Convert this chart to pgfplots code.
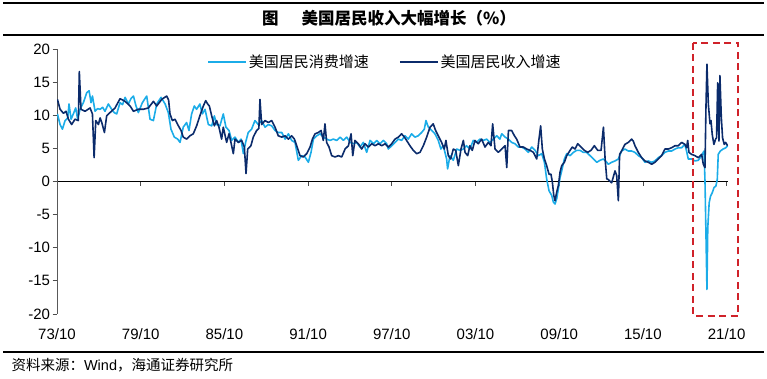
\documentclass[border=0pt]{standalone}
\usepackage{pgfplots}
\pgfplotsset{compat=1.18}
\usepackage{fontspec}
\setmainfont{Liberation Sans}
\newfontfamily\cjk{Noto Sans CJK SC}
\definecolor{cons}{HTML}{1BACE8}
\definecolor{inc}{HTML}{0B2B6B}
\definecolor{boxred}{HTML}{D0222A}

\pgfplotstableread{
x y
1973.78 10.2
1973.97 8.6
1974.14 7.9
1974.33 9.2
1974.52 9.6
1974.61 11.7
1974.76 9.4
1974.92 10.2
1975.09 11.1
1975.23 9.4
1975.40 10.9
1975.64 11.9
1975.88 13.4
1976.05 13.7
1976.19 11.9
1976.29 12.9
1976.48 10.6
1976.66 11.0
1976.84 10.9
1977.02 11.2
1977.19 10.6
1977.43 11.7
1977.67 10.9
1977.85 10.4
1978.03 10.2
1978.27 11.9
1978.45 11.6
1978.63 12.7
1978.87 11.7
1979.05 12.5
1979.23 12.9
1979.40 11.5
1979.58 10.4
1979.87 11.9
1980.18 12.9
1980.42 9.4
1980.66 9.2
1980.90 11.7
1981.21 12.7
1981.50 11.7
1981.73 10.4
1981.92 7.9
1982.16 6.7
1982.40 6.4
1982.57 5.9
1982.80 8.2
1983.04 8.9
1983.21 7.7
1983.40 10.2
1983.59 11.4
1983.76 10.9
1983.99 11.7
1984.17 10.2
1984.36 10.9
1984.60 8.6
1984.84 8.4
1985.03 9.9
1985.19 8.6
1985.43 8.4
1985.67 10.2
1985.86 8.2
1986.08 7.7
1986.27 6.2
1986.51 6.7
1986.75 5.9
1986.94 6.4
1987.11 4.2
1987.27 5.9
1987.46 7.4
1987.70 7.9
1987.94 9.2
1988.18 8.6
1988.42 9.2
1988.66 8.2
1988.90 8.6
1989.14 8.4
1989.38 7.7
1989.61 7.4
1989.86 7.4
1990.10 6.4
1990.34 7.2
1990.57 6.2
1990.81 5.9
1991.05 3.2
1991.29 3.9
1991.53 3.7
1991.77 2.9
1991.96 4.4
1992.13 6.4
1992.37 6.9
1992.61 7.2
1992.84 6.7
1993.08 6.4
1993.32 6.2
1993.56 6.4
1993.80 6.2
1994.04 6.7
1994.28 6.2
1994.52 6.7
1994.76 5.9
1994.99 5.7
1995.23 5.9
1995.47 5.2
1995.71 5.9
1995.95 4.4
1996.19 6.2
1996.43 5.7
1996.67 6.2
1996.91 5.7
1997.15 6.2
1997.38 5.7
1997.50 4.9
1997.74 5.4
1997.98 5.9
1998.22 6.4
1998.45 6.2
1998.69 6.9
1998.93 6.4
1999.17 7.2
1999.41 6.7
1999.65 6.9
1999.89 7.4
2000.08 7.9
2000.20 9.2
2000.37 8.2
2000.61 7.7
2000.84 7.2
2001.08 6.2
2001.27 4.9
2001.44 5.4
2001.68 3.4
2001.75 1.9
2001.92 3.9
2002.16 3.2
2002.40 4.9
2002.64 4.7
2002.88 4.9
2003.11 5.4
2003.35 4.9
2003.59 6.2
2003.83 5.9
2004.07 6.4
2004.31 6.2
2004.55 6.4
2004.79 5.9
2005.03 6.4
2005.27 6.9
2005.50 6.4
2005.63 7.2
2005.87 6.7
2006.11 6.4
2006.34 5.9
2006.58 5.7
2006.82 5.2
2007.06 5.2
2007.30 4.9
2007.54 4.4
2007.78 5.2
2008.02 4.7
2008.26 3.9
2008.50 4.2
2008.69 2.9
2008.85 0.4
2009.02 -1.4
2009.21 -2.1
2009.33 -3.1
2009.45 -3.4
2009.57 -2.6
2009.69 -1.1
2009.81 0.6
2009.93 1.6
2010.12 3.4
2010.29 4.2
2010.53 3.9
2010.77 4.4
2011.00 4.7
2011.24 4.7
2011.48 4.4
2011.72 4.4
2011.96 3.9
2012.20 3.4
2012.44 2.9
2012.68 3.2
2012.92 3.4
2013.16 2.9
2013.27 2.6
2013.51 2.9
2013.75 3.1
2013.99 3.4
2014.22 4.6
2014.46 4.9
2014.70 4.6
2014.94 4.6
2015.18 4.4
2015.42 3.9
2015.66 3.6
2015.90 2.9
2016.14 3.1
2016.38 2.9
2016.61 3.1
2016.85 3.6
2017.09 3.9
2017.33 4.4
2017.57 4.6
2017.81 4.6
2018.05 4.9
2018.29 5.1
2018.53 5.1
2018.76 5.6
2018.88 4.6
2019.00 3.4
2019.24 3.4
2019.48 3.1
2019.72 3.2
2019.96 3.9
2020.13 4.6
2020.20 0.1
2020.27 -8.0
2020.34 -16.3
2020.40 -7.0
2020.50 -3.2
2020.60 -2.2
2020.72 -1.7
2020.85 -0.9
2020.98 -0.7
2021.08 0.3
2021.15 4.1
2021.30 4.6
2021.50 4.9
2021.70 5.1
2021.82 5.4
}\consdata

\pgfplotstableread{
x y
1973.78 12.4
1973.97 10.9
1974.21 10.3
1974.40 10.6
1974.57 9.4
1974.80 8.6
1975.04 9.4
1975.28 9.2
1975.35 16.6
1975.47 10.9
1975.76 10.6
1976.12 11.1
1976.29 10.2
1976.41 3.6
1976.53 9.2
1976.72 8.6
1976.84 9.6
1976.96 8.9
1977.15 7.4
1977.31 9.9
1977.55 10.4
1977.91 11.1
1978.27 12.5
1978.63 12.1
1978.99 11.4
1979.23 10.6
1979.58 10.9
1979.94 10.9
1980.30 11.1
1980.66 12.1
1980.90 11.4
1981.26 12.4
1981.61 12.9
1981.75 12.3
1981.85 10.2
1982.02 9.2
1982.21 9.4
1982.40 8.6
1982.64 7.7
1982.80 6.7
1983.04 6.4
1983.28 6.9
1983.52 7.2
1983.76 8.4
1983.99 9.9
1984.24 11.4
1984.41 12.2
1984.55 11.7
1984.67 11.4
1984.84 9.9
1985.03 8.4
1985.19 9.2
1985.36 8.2
1985.55 6.4
1985.67 8.2
1985.91 5.9
1986.08 7.2
1986.22 5.9
1986.39 4.2
1986.51 6.4
1986.75 5.9
1986.99 6.2
1987.18 5.2
1987.30 1.2
1987.42 4.9
1987.65 5.4
1987.82 6.7
1988.06 7.7
1988.22 8.0
1988.30 12.4
1988.42 8.6
1988.66 9.2
1988.90 8.9
1989.14 9.2
1989.38 8.2
1989.61 6.9
1989.86 6.7
1990.10 6.9
1990.34 6.4
1990.57 6.9
1990.77 6.4
1990.93 5.4
1991.17 3.9
1991.41 3.7
1991.65 4.2
1991.89 5.2
1992.06 6.4
1992.25 7.2
1992.49 7.4
1992.68 7.7
1992.84 6.2
1992.96 8.7
1993.08 5.9
1993.25 5.2
1993.44 3.9
1993.68 3.7
1993.92 3.9
1994.16 3.7
1994.40 4.9
1994.64 5.4
1994.83 7.2
1994.95 3.9
1995.11 6.2
1995.35 5.7
1995.59 4.9
1995.83 5.7
1996.07 5.2
1996.31 5.7
1996.55 5.4
1996.79 5.7
1997.03 5.4
1997.27 5.7
1997.50 5.2
1997.74 5.7
1997.98 6.4
1998.22 6.7
1998.45 7.2
1998.65 6.7
1998.81 6.2
1999.05 5.4
1999.29 4.7
1999.53 4.2
1999.77 4.4
2000.01 5.4
2000.25 6.7
2000.49 8.2
2000.72 8.7
2000.89 7.7
2001.08 6.9
2001.32 5.9
2001.51 4.9
2001.63 6.2
2001.80 3.9
2001.97 3.4
2002.16 4.9
2002.33 4.7
2002.52 2.4
2002.71 4.9
2002.88 6.2
2003.00 4.4
2003.19 3.9
2003.35 5.4
2003.52 4.7
2003.71 6.2
2003.95 5.7
2004.19 6.4
2004.43 5.2
2004.67 5.9
2004.86 5.4
2004.98 8.7
2005.15 4.9
2005.38 4.4
2005.63 4.9
2005.87 5.4
2005.99 2.1
2006.11 7.7
2006.34 7.7
2006.54 6.9
2006.70 6.4
2006.94 5.2
2007.18 5.2
2007.42 4.9
2007.66 4.7
2007.90 4.4
2008.14 3.4
2008.30 6.4
2008.42 8.4
2008.54 4.9
2008.69 3.4
2008.85 2.4
2009.02 1.1
2009.16 1.1
2009.26 -0.1
2009.36 -2.1
2009.45 -2.9
2009.57 -1.6
2009.69 -0.6
2009.81 1.4
2009.93 2.4
2010.12 2.9
2010.29 3.9
2010.53 4.7
2010.69 5.2
2010.88 4.9
2011.08 5.7
2011.31 5.2
2011.55 4.7
2011.79 4.4
2012.03 4.7
2012.27 5.4
2012.51 4.7
2012.75 4.7
2012.92 8.2
2013.04 3.4
2013.16 0.4
2013.27 0.3
2013.51 -0.2
2013.75 1.6
2013.87 0.9
2013.99 -2.9
2014.08 4.1
2014.22 4.6
2014.46 5.6
2014.70 5.9
2014.94 6.4
2015.06 6.1
2015.18 5.4
2015.42 4.4
2015.66 3.6
2015.90 3.1
2016.14 2.9
2016.38 2.6
2016.61 2.9
2016.85 3.4
2017.09 3.9
2017.33 4.9
2017.57 4.9
2017.81 5.1
2018.05 5.4
2018.29 5.4
2018.53 5.9
2018.76 5.6
2018.88 5.1
2018.96 6.2
2019.05 4.4
2019.24 4.1
2019.48 3.9
2019.72 3.6
2019.96 4.1
2020.08 2.6
2020.20 2.1
2020.27 11.2
2020.34 17.7
2020.44 11.7
2020.56 8.7
2020.63 9.2
2020.72 7.1
2020.84 5.6
2020.96 6.4
2021.03 6.6
2021.11 14.9
2021.20 6.1
2021.27 16.0
2021.37 9.7
2021.46 6.6
2021.58 5.6
2021.68 5.9
2021.82 5.4
}\incdata

\begin{document}
\begin{tikzpicture}[x=1pt,y=1pt]
\path (0,0) rectangle (767,379);
\draw[line width=1.2pt] (3,376) -- (764,376);
\draw[line width=1.2pt] (3,344) -- (764,344);
\draw[line width=1.2pt] (3,27) -- (764,27);
\node[font=\cjk\bfseries\fontsize{16.5}{19}\selectfont] at (389,361) {图\hspace{1.4em}美国居民收入大幅增长（\%）};
\node[anchor=west, font=\fontsize{14.5}{16}\selectfont] at (8,14) {{\cjk 资料来源：}Wind{\cjk ，海通证券研究所}};
\begin{axis}[
  at={(57pt,65pt)}, anchor=south west,
  scale only axis, width=671pt, height=265pt,
  xmin=1973.75, xmax=2021.85, ymin=-20, ymax=20,
  axis x line=middle, axis y line=left,
  hide obscured x ticks=false, hide obscured y ticks=false,
  x axis line style={-, black, line width=0.8pt},
  y axis line style={-, black!65, line width=0.8pt},
  tick align=outside, major tick length=4.5pt,
  every tick/.style={black!70, line width=0.8pt},
  xtick={1973.75,1979.75,1985.75,1991.75,1997.75,2003.75,2009.75,2015.75,2021.75},
  xticklabels={73/10,79/10,85/10,91/10,97/10,03/10,09/10,15/10,21/10},
  ytick={-20,-15,-10,-5,0,5,10,15,20},
  yticklabels={-20,-15,-10,-5,0,5,10,15,20},
  xticklabel style={anchor=center, yshift=-148pt, font=\fontsize{15}{17}\selectfont},
  yticklabel style={font=\fontsize{15}{17}\selectfont, xshift=1pt},
  legend style={at={(0.2238,0.951)}, anchor=west, draw=none, fill=none,
    inner sep=0pt, legend columns=2,
    font=\cjk\fontsize{15}{17}\selectfont,
    /tikz/every even column/.append style={column sep=28pt}},
  legend image code/.code={\draw[#1] (0pt,0pt) -- (38pt,0pt);},
]
\addplot[cons, line width=1.6pt, line join=round] table[x=x,y=y] {\consdata};
\addlegendentry{美国居民消费增速}
\addplot[inc, line width=1.6pt, line join=round] table[x=x,y=y] {\incdata};
\addlegendentry{美国居民收入增速}
\end{axis}
\draw[boxred, line width=2pt, dash pattern=on 7pt off 4.5pt] (693,336) rectangle (738,63);
\end{tikzpicture}
\end{document}
